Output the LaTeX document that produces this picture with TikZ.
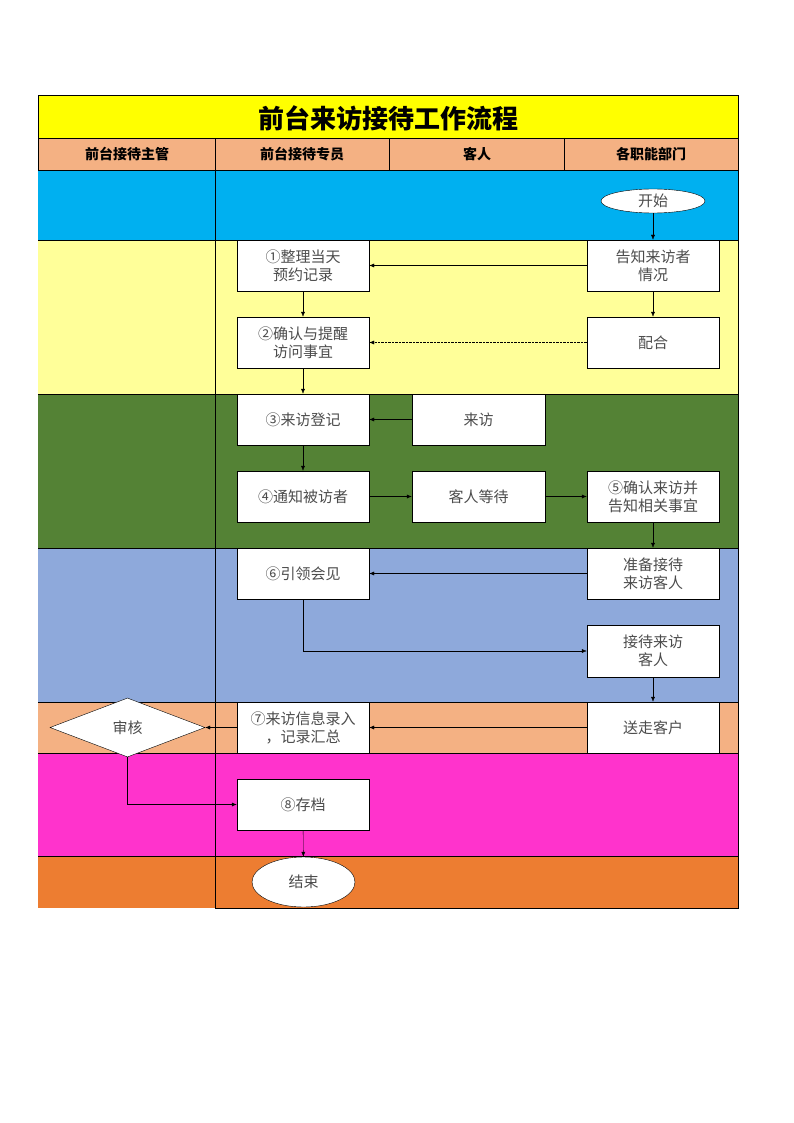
\documentclass[tikz,border=0pt]{standalone}
\usepackage{fontspec}
\setmainfont{Noto Sans CJK SC}
\usetikzlibrary{shapes.geometric,arrows.meta}

\definecolor{titleYellow}{HTML}{FFFF00}
\definecolor{headSalmon}{HTML}{F4B183}
\definecolor{laneCyan}{HTML}{00B0F0}
\definecolor{laneYellow}{HTML}{FFFF99}
\definecolor{laneGreen}{HTML}{548235}
\definecolor{laneBlue}{HTML}{8EA9DB}
\definecolor{laneMagenta}{HTML}{FF33CC}
\definecolor{laneOrange}{HTML}{ED7D31}

\begin{document}
\begin{tikzpicture}[x=1pt,y=-1pt,%%
  boxStyle/.style={draw,fill=white,minimum width=132pt,minimum height=51pt,
    inner sep=0pt,align=center,text=black!70,font=\fontsize{15}{18}\selectfont},
  ovalStyle/.style={boxStyle,ellipse},
  headStyle/.style={font=\bfseries\fontsize{14}{16}\selectfont},
  arrowStyle/.style={-{Latex[length=5pt,width=4pt]},thin}
]
%%
\useasboundingbox (0,0) rectangle (794,1123);
%%
%% The coloured bands.
\fill[titleYellow] (38,95) rectangle (738,138);
\fill[headSalmon] (38,138) rectangle (738,170);
\fill[laneCyan] (38,170) rectangle (738,240);
\fill[laneYellow] (38,240) rectangle (738,394);
\fill[laneGreen] (38,394) rectangle (738,548);
\fill[laneBlue] (38,548) rectangle (738,702);
\fill[headSalmon] (38,702) rectangle (738,753);
\fill[laneMagenta] (38,753) rectangle (738,856);
\fill[laneOrange] (38,856) rectangle (738,908);
%% The grid lines.
\draw (38,170) -- (38,95) -- (738,95) -- (738,908) -- (215,908) -- (215,138);
\foreach \y in {138,170,240,394,548,702,856} {
  \draw (38,\y) -- (738,\y);
}
\draw[semithick] (38,753) -- (738,753);
\foreach \x in {389,564} {
  \draw (\x,138) -- (\x,170);
}
%% Title and lane heads.
\node (title) at (388,118) {\bfseries\fontsize{26}{30}\selectfont 前台来访接待工作流程};
\node[headStyle] (headBoss) at (127,154) {前台接待主管};
\node[headStyle] (headDesk) at (302,154) {前台接待专员};
\node[headStyle] (headGuest) at (477,154) {客人};
\node[headStyle] (headDept) at (651,154) {各职能部门};
%%
%% The steps.
\node[ovalStyle,minimum width=104pt,minimum height=24pt] (start) at (653,201) {开始};
\node[boxStyle] (sortRec) at (303,265.5) {①整理当天\\预约记录};
\node[boxStyle] (notify) at (653,265.5) {告知来访者\\情况};
\node[boxStyle] (confirm) at (303,342.5) {②确认与提醒\\访问事宜};
\node[boxStyle] (assist) at (653,342.5) {配合};
\node[boxStyle] (register) at (303,419.5) {③来访登记};
\node[boxStyle,minimum width=133pt] (visit) at (478.5,419.5) {来访};
\node[boxStyle] (inform) at (303,496.5) {④通知被访者};
\node[boxStyle,minimum width=133pt] (wait) at (478.5,496.5) {客人等待};
\node[boxStyle] (check) at (653,496.5) {⑤确认来访并\\告知相关事宜};
\node[boxStyle] (guide) at (303,573.5) {⑥引领会见};
\node[boxStyle] (prepare) at (653,573.5) {准备接待\\来访客人};
\node[boxStyle,minimum height=52pt] (receive) at (653,651) {接待来访\\客人};
\node[draw,fill=white,diamond,minimum width=155pt,minimum height=59pt,inner sep=0pt,
  text=black!70,font=\fontsize{15}{18}\selectfont] (audit) at (127.5,727.5) {审核};
\node[boxStyle] (record) at (303,727.5) {⑦来访信息录入\\，记录汇总};
\node[boxStyle] (sendOff) at (653,727.5) {送走客户};
\node[boxStyle] (archive) at (303,804.5) {⑧存档};
\node[ovalStyle,minimum width=103pt,minimum height=50pt] (finish) at (303.5,882) {结束};
%%
%% The connectors.
\draw[arrowStyle] (start) -- (notify);
\draw[arrowStyle] (notify) -- (sortRec);
\draw[arrowStyle] (sortRec) -- (confirm);
\draw[arrowStyle] (notify) -- (assist);
\draw[arrowStyle,densely dotted] (assist) -- (confirm);
\draw[arrowStyle] (confirm) -- (register);
\draw[arrowStyle] (visit) -- (register);
\draw[arrowStyle] (register) -- (inform);
\draw[arrowStyle] (inform) -- (wait);
\draw[arrowStyle] (wait) -- (check);
\draw[arrowStyle] (check) -- (prepare);
\draw[arrowStyle] (prepare) -- (guide);
\draw[arrowStyle] (guide.south) |- (receive.west);
\draw[arrowStyle] (receive) -- (sendOff);
\draw[arrowStyle] (sendOff) -- (record);
\draw[arrowStyle] (record) -- (audit);
\draw[arrowStyle] (audit.south) |- (archive.west);
\draw[arrowStyle] (archive) -- (finish);
\end{tikzpicture}
\end{document}
